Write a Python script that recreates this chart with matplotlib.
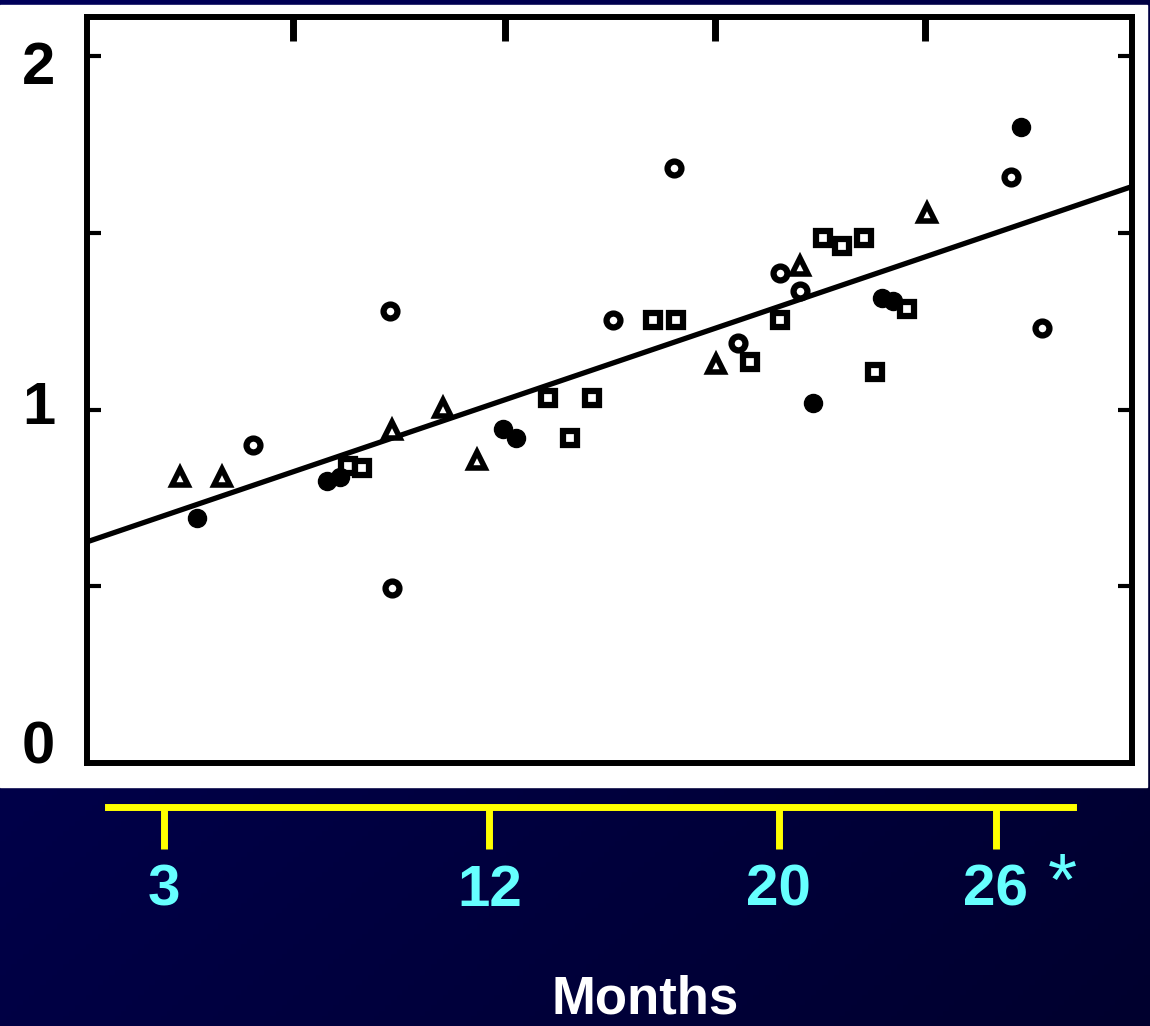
import matplotlib
matplotlib.use("Agg")
import matplotlib.pyplot as plt
from matplotlib.colors import LinearSegmentedColormap
import numpy as np


# ── Palette ──────────────────────────────────────────────
NAVY_LIGHT = "#00005a"
NAVY_DARK  = "#00002e"
YELLOW     = "#ffff00"
CYAN       = "#66ffff"
WHITE      = "#ffffff"
BLACK      = "#000000"
FONT       = "Liberation Sans"

# ── Data (months, ratio) ─────────────────────────────────
circle_x = [5.47, 9.25, 9.31, 15.42, 17.10, 18.87, 20.03, 20.59, 26.42, 27.27]
circle_y = [0.900, 1.279, 0.495, 1.253, 1.683, 1.188, 1.386, 1.335, 1.658, 1.231]

square_x = [8.09, 8.48, 13.62, 14.84, 14.23, 16.52, 17.16, 19.20, 20.03,
            21.22, 21.75, 22.35, 23.54, 22.66]
square_y = [0.840, 0.835, 1.033, 1.033, 0.919, 1.253, 1.253, 1.134, 1.253,
            1.485, 1.463, 1.485, 1.284, 1.106]

tri_x = [3.45, 4.61, 9.31, 10.72, 11.66, 18.26, 20.59, 24.10]
tri_y = [0.809, 0.809, 0.942, 1.004, 0.857, 1.129, 1.406, 1.556]

dot_x = [3.92, 7.51, 7.87, 12.38, 12.74, 20.95, 26.69, 22.85, 23.16]
dot_y = [0.693, 0.798, 0.809, 0.945, 0.919, 1.018, 1.799, 1.315, 1.307]

fit_intercept = 0.595
fit_slope     = 0.0348

month_ticks    = [3, 12, 20, 26]
orig_top_ticks = [6.57, 12.43, 18.23, 24.04]
ratio_ticks    = [0.5, 1.0, 1.5, 2.0]
slide_labels   = ["0", "1", "2"]

# ── Figure geometry (pixels) ─────────────────────────────
W, H = 1150, 1026
X0, XS = 55.2, 36.18          # pixel -> month mapping of the slide axis


def px_box(left, top, right, bottom):
    return [left / W, 1 - bottom / H, (right - left) / W, (bottom - top) / H]


def px_to_month(px):
    return (px - X0) / XS


fig = plt.figure(figsize=(W / 100, H / 100), dpi=100)

# ── Background: navy gradient + white scan area ─────────
bg = fig.add_axes([0, 0, 1, 1], zorder=-10)
gx, gy = np.meshgrid(np.linspace(0, 1, 200), np.linspace(0, 1, 200))
grad = (gx + gy) / 2
cmap = LinearSegmentedColormap.from_list("navy", [NAVY_LIGHT, NAVY_DARK])
bg.imshow(grad, cmap=cmap, aspect="auto", extent=[0, 1, 0, 1], origin="upper")
bg.add_patch(plt.Rectangle((0, 1 - 787 / H), 1147 / W, 782 / H,
                           color=WHITE, transform=bg.transAxes))
bg.set_xlim(0, 1)
bg.set_ylim(0, 1)
bg.axis("off")

xlim = (px_to_month(87), px_to_month(1132))

# ── Scanned scatter plot ─────────────────────────────────
ax = fig.add_axes(px_box(87, 17, 1132, 763))
ax.set_facecolor("none")
ax.set_xlim(*xlim)
ax.set_ylim(0, (763 - 17) / 353.5)

mk = dict(linestyle="none", color=BLACK, markeredgecolor=BLACK, clip_on=False)
ax.plot(circle_x, circle_y, marker="o", markersize=10, markeredgewidth=4.5,
        markerfacecolor=WHITE, **mk)
ax.plot(square_x, square_y, marker="s", markersize=10, markeredgewidth=4.5,
        markerfacecolor=WHITE, **mk)
ax.plot(tri_x, tri_y, marker="^", markersize=12, markeredgewidth=4,
        markerfacecolor=WHITE, **mk)
ax.plot(dot_x, dot_y, marker="o", markersize=13, markerfacecolor=BLACK, **mk)

xs = np.array(xlim)
ax.plot(xs, fit_intercept + fit_slope * xs, color=BLACK, linewidth=3.8, zorder=1)

for spine in ax.spines.values():
    spine.set_linewidth(4.3)
    spine.set_color(BLACK)
ax.set_xticks(orig_top_ticks)
ax.set_yticks(ratio_ticks)
ax.tick_params(axis="x", top=True, bottom=False, labelbottom=False,
               direction="in", length=17, width=5, color=BLACK)
ax.tick_params(axis="y", left=True, right=True, labelleft=False,
               direction="in", length=10, width=3, color=BLACK)

# ── Slide y labels (0 / 1 / 2) ───────────────────────────
ax_lab = fig.add_axes(px_box(87, 63, 1132, 742))
ax_lab.set_frame_on(False)
ax_lab.patch.set_visible(False)
ax_lab.set_ylim(0, 2)
ax_lab.set_xticks([])
ax_lab.set_yticks(range(len(slide_labels)))
ax_lab.set_yticklabels(slide_labels, fontsize=43, fontweight="bold",
                       color=BLACK, family=FONT)
ax_lab.tick_params(axis="y", length=0, pad=23)

# ── Yellow months axis ───────────────────────────────────
ax_m = fig.add_axes(px_box(87, 806, 1132, 807))
ax_m.patch.set_visible(False)
ax_m.set_xlim(*xlim)
for side in ("top", "left", "right"):
    ax_m.spines[side].set_visible(False)
ax_m.spines["bottom"].set_color(YELLOW)
ax_m.spines["bottom"].set_linewidth(5)
ax_m.spines["bottom"].set_bounds(px_to_month(108), px_to_month(1073))
ax_m.set_yticks([])
ax_m.set_xticks(month_ticks)
ax_m.set_xticklabels([str(m) for m in month_ticks], fontsize=42,
                     fontweight="bold", color=CYAN, family=FONT)
ax_m.tick_params(axis="x", direction="out", length=30, width=5,
                 color=YELLOW, pad=11)

fig.text(1062 / W, 1 - 905 / H, "*", color=CYAN, fontsize=54,
         ha="center", va="baseline", family=FONT)
fig.text(645 / W, 1 - 1013 / H, "Months", color=WHITE, fontsize=38,
         fontweight="bold", ha="center", va="baseline", family=FONT)

fig.savefig("out.png", dpi=100, facecolor=NAVY_LIGHT)
